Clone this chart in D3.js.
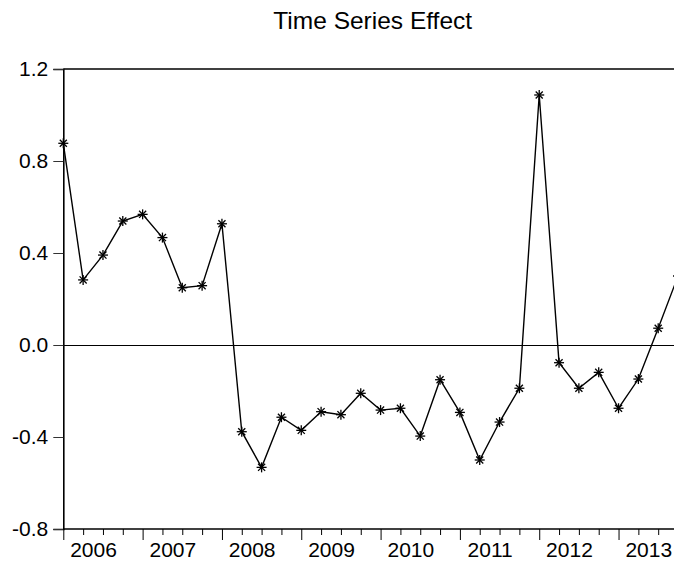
<!DOCTYPE html>
<html>
<head>
<meta charset="utf-8">
<script src="https://cdn.jsdelivr.net/npm/d3@7"></script>
<style>
	body	{ margin:0; background:#fff; }
	svg	{ display:block; font-family:"Liberation Sans", Arial, sans-serif; }
</style>
</head>
<body>
<div id="chart"></div>
<script>
// quarterly series 2006Q1 .. 2013Q4
var quarters	= ["2006Q1","2006Q2","2006Q3","2006Q4","2007Q1","2007Q2","2007Q3","2007Q4",
		   "2008Q1","2008Q2","2008Q3","2008Q4","2009Q1","2009Q2","2009Q3","2009Q4",
		   "2010Q1","2010Q2","2010Q3","2010Q4","2011Q1","2011Q2","2011Q3","2011Q4",
		   "2012Q1","2012Q2","2012Q3","2012Q4","2013Q1","2013Q2","2013Q3","2013Q4"];
var effect	= [0.877, 0.283, 0.391, 0.539, 0.568, 0.467, 0.249, 0.258,
		   0.527, -0.377, -0.532, -0.314, -0.371, -0.290, -0.303, -0.210,
		   -0.283, -0.275, -0.396, -0.151, -0.293, -0.500, -0.335, -0.188,
		   1.087, -0.077, -0.188, -0.119, -0.275, -0.148, 0.073, 0.300];
var years	= ["2006","2007","2008","2009","2010","2011","2012","2013"];
var yTicks	= [-0.8, -0.4, 0.0, 0.4, 0.8, 1.2];
var title	= "Time Series Effect";

var W = 674, H = 565;
var mLeft = 63.3, mTop = 69, mBottom = 529, step = 19.83;

var svg = d3.select('#chart').append('svg').attr('width', W).attr('height', H);

var x = d3.scaleLinear().domain([0, quarters.length-1]).range([mLeft, mLeft+step*(quarters.length-1)]);
var y = d3.scaleLinear().domain([-0.8, 1.2]).range([mBottom, mTop]);

svg.append('text').attr('x', 372.7).attr('y', 29).attr('text-anchor','middle')
	.style('font-size','24.5px').attr('fill','#000').text(title);

// frame: top border
svg.append('line').attr('x1', mLeft).attr('x2', W).attr('y1', mTop).attr('y2', mTop)
	.attr('stroke','#000').attr('stroke-width',1.3);

// zero line
svg.append('line').attr('x1', mLeft).attr('x2', W).attr('y1', y(0)+0.5).attr('y2', y(0)+0.5)
	.attr('stroke','#000').attr('stroke-width',1);

// y axis
var ya = svg.append('g').attr('transform','translate('+mLeft+',0)')
	.call(d3.axisLeft(y).tickValues(yTicks).tickSize(10).tickPadding(5).tickFormat(function(d){return d.toFixed(1)}));
ya.select('.domain').attr('stroke-width',1.6);
ya.selectAll('.tick line').attr('stroke','#333');
ya.selectAll('.tick text').style('font-size','21px').attr('fill','#000');

// x axis: quarterly ticks, long ones at Q1
var xa = svg.append('g').attr('transform','translate(0,'+mBottom+')')
	.call(d3.axisBottom(x).tickValues(d3.range(quarters.length)).tickFormat(''));
xa.select('.domain').attr('d','M'+mLeft+',0H'+W).attr('stroke-width',1.5);
xa.selectAll('.tick line').attr('y2', function(d){ return quarters[d].slice(4)=="Q1" ? 11 : 6; }).attr('stroke','#000');

// year labels centred over the four quarters of each year
var xl = svg.append('g').attr('transform','translate(0,'+mBottom+')')
	.call(d3.axisBottom(x).tickValues(years.map(function(d,i){return i*4+1.5;})).tickSize(0).tickPadding(13)
		.tickFormat(function(d,i){return years[i];}));
xl.select('.domain').remove();
xl.selectAll('.tick text').style('font-size','21px').attr('fill','#000');

// series line
var line = d3.line().x(function(d,i){return x(i)}).y(function(d){return y(d)});
svg.append('path').datum(effect).attr('d', line)
	.attr('fill','none').attr('stroke','#000').attr('stroke-width',1.4);

// asterisk markers
var r = 5;
var mk = svg.append('g').selectAll('g.mk').data(effect).enter().append('g').attr('class','mk')
	.attr('transform', function(d,i){ return 'translate('+x(i)+','+y(d)+')'; });
[0,45,90,135].forEach(function(a){
	mk.append('line').attr('x1',-r).attr('x2',r).attr('y1',0).attr('y2',0)
		.attr('transform','rotate('+a+')').attr('stroke','#000').attr('stroke-width',1.3);
});
</script>
</body>
</html>
